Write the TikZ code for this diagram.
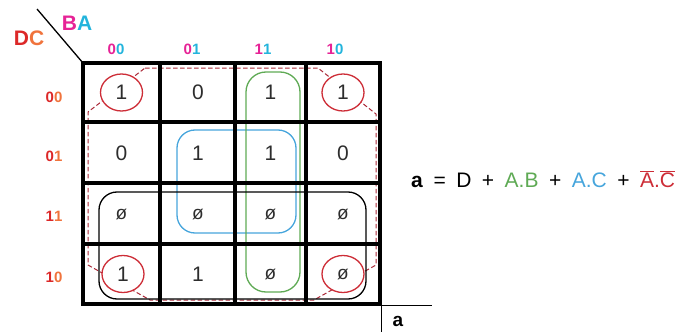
\documentclass[tikz,border=0pt]{standalone}
\usepackage{fontspec}
\setmainfont{Liberation Sans}
\usetikzlibrary{shapes.geometric}
\definecolor{kred}{RGB}{205,45,55}
\definecolor{kdash}{RGB}{170,40,55}
\definecolor{kgreen}{RGB}{95,170,85}
\definecolor{kblue}{RGB}{70,165,220}
\definecolor{kmag}{RGB}{230,35,150}
\definecolor{kcyan}{RGB}{35,180,220}
\definecolor{kdred}{RGB}{220,40,40}
\definecolor{korange}{RGB}{240,115,60}
\definecolor{kgray}{RGB}{45,45,45}
\tikzset{
  cellnum/.style={font=\fontsize{21}{21}\selectfont, text=kgray, inner sep=0pt},
  dcnum/.style={font=\fontsize{19}{19}\selectfont, text=kgray, inner sep=0pt},
  circ/.style={ellipse, draw=kred, fill=white, line width=1.3pt, minimum width=42pt, minimum height=37pt, inner sep=0pt},
  gridline/.style={line width=4pt, line cap=rect},
  loop/.style={line width=1.3pt, rounded corners=18pt},
  collab/.style={font=\fontsize{15}{15}\bfseries\selectfont, inner sep=0pt},
}
\newcommand{\mg}[1]{\textcolor{kmag}{#1}}
\newcommand{\cy}[1]{\textcolor{kcyan}{#1}}
\newcommand{\rd}[1]{\textcolor{kdred}{#1}}
\newcommand{\og}[1]{\textcolor{korange}{#1}}
\newcommand{\fgap}{\hspace{10.5pt}}
\begin{document}
\begin{tikzpicture}[x=1pt,y=-1pt]
\useasboundingbox (0,0) rectangle (678,332);
% dashed group (A'C')
\draw[kdash, line width=1pt, dash pattern=on 4.5pt off 2.5pt]
  (145,68) -- (318,68) -- (376,114) -- (376,265) -- (314,300) -- (150,300) -- (88,265) -- (88,112) -- cycle;
% corner circles
\node[circ, font=\fontsize{21}{21}\selectfont, text=kgray] (c00) at (121.5,92.5) {1};
\node[circ, font=\fontsize{21}{21}\selectfont, text=kgray] (c03) at (343,92.5) {1};
\node[circ, font=\fontsize{21}{21}\selectfont, text=kgray] (c30) at (123,274) {1};
\node[circ, font=\fontsize{19}{19}\selectfont, text=kgray] (c33) at (343,274) {ø};
% loops
\draw[loop, kblue] (177,130) rectangle (296,233);
\draw[loop, kgreen, rounded corners=20pt] (246,72) rectangle (300,292);
\draw[loop, black] (99,192) rectangle (366,299);
% other cells
\node[cellnum] (c01) at (198,92.5) {0};
\node[cellnum] (c02) at (270.5,92.5) {1};
\node[cellnum] (c10) at (121.5,153) {0};
\node[cellnum] (c11) at (198,153) {1};
\node[cellnum] (c12) at (270.5,153) {1};
\node[cellnum] (c13) at (343,153) {0};
\node[dcnum] (c20) at (121.5,214) {ø};
\node[dcnum] (c21) at (198,214) {ø};
\node[dcnum] (c22) at (270.5,214) {ø};
\node[dcnum] (c23) at (343,214) {ø};
\node[cellnum] (c31) at (198,274) {1};
\node[dcnum] (c32) at (270.5,274) {ø};
% grid
\coordinate (gtl) at (83,63);
\coordinate (gbr) at (380,304);
\draw[gridline] (gtl) rectangle (gbr);
\foreach \x in {160,235,306} \draw[gridline] (\x,63) -- (\x,304);
\foreach \y in {122,183,244} \draw[gridline] (83,\y) -- (380,\y);
% corner diagonal and variable names
\coordinate (d0) at (37,9);
\draw[line width=1.3pt] (d0) -- (gtl);
\node[font=\fontsize{21}{21}\bfseries\selectfont, inner sep=0pt] (dc) at (29,38) {\rd{D}\og{C}};
\node[font=\fontsize{21}{21}\bfseries\selectfont, inner sep=0pt] (ba) at (77,23) {\mg{B}\cy{A}};
% column labels
\node[collab] (k0) at (116,49) {\mg{0}\cy{0}};
\node[collab] (k1) at (192,49) {\mg{0}\cy{1}};
\node[collab] (k2) at (263,49) {\mg{1}\cy{1}};
\node[collab] (k3) at (335,49) {\mg{1}\cy{0}};
% row labels
\node[collab] (r0) at (54,97) {\rd{0}\og{0}};
\node[collab] (r1) at (54,156) {\rd{0}\og{1}};
\node[collab] (r2) at (54,216) {\rd{1}\og{1}};
\node[collab] (r3) at (54,277) {\rd{1}\og{0}};
% output label
\coordinate (obr) at (381,305.5);
\coordinate (oh) at (432,305.5);
\coordinate (ov) at (381,332);
\draw[line width=0.9pt] (obr) -- (oh);
\draw[line width=0.9pt] (obr) -- (ov);
\node[font=\fontsize{19}{19}\bfseries\selectfont, inner sep=0pt] (out) at (398,321) {a};
% formula
\node[anchor=base west, inner sep=0pt, font=\fontsize{21}{21}\selectfont] (eq) at (411,187)
  {\textbf{a}\fgap=\fgap D\fgap+\fgap\textcolor{kgreen}{A.B}\fgap+\fgap\textcolor{kblue}{A.C}\fgap+\fgap\textcolor{kred}{$\overline{\mbox{A}}$.$\overline{\mbox{C}}$}};
\end{tikzpicture}
\end{document}
